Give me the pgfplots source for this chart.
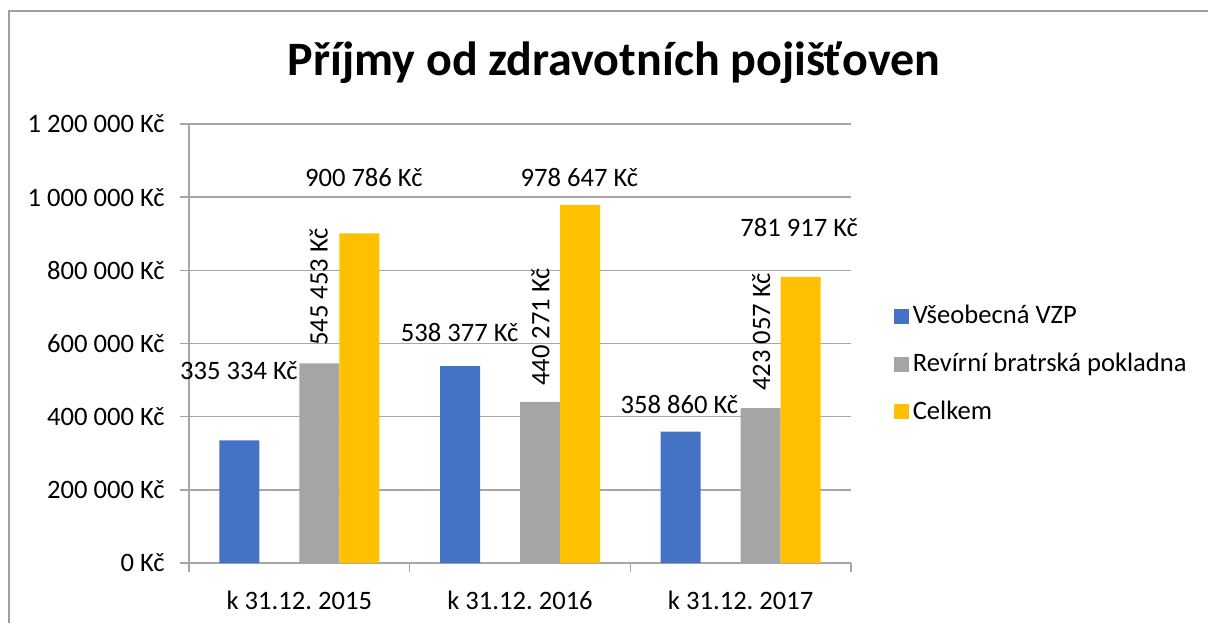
\documentclass[border=0pt]{standalone}
\usepackage{pgfplots}
\pgfplotsset{compat=1.18}
\usepackage{fontspec}
\setmainfont{Carlito}
\frenchspacing

\definecolor{vzp}{HTML}{4472C4}
\definecolor{rbp}{HTML}{A5A5A5}
\definecolor{celk}{HTML}{FFC000}
\definecolor{gridc}{HTML}{A6A6A6}
\definecolor{framec}{HTML}{A0A0A0}

\begin{document}
\begin{tikzpicture}[font=\fontsize{13.3}{16}\selectfont]
\useasboundingbox (0pt,0pt) rectangle (604pt,311.5pt);
\draw[framec, line width=1pt] (4.5pt,0pt) -- (4.5pt,306pt) -- (604pt,306pt);
\node[font=\fontsize{24}{28}\selectfont\bfseries] at (307pt,280pt) {Příjmy od zdravotních pojišťoven};

\begin{axis}[
    at={(94.5pt,30pt)}, anchor=south west,
    scale only axis,
    width=331pt, height=219.5pt,
    xmin=-0.5, xmax=2.5,
    ymin=0, ymax=1200000,
    ybar, bar width=20pt,
    axis x line*=bottom, axis y line*=left,
    axis line style={gridc, line width=0.8pt},
    ymajorgrids, grid style={gridc, line width=0.8pt},
    tick align=outside, major tick length=4.5pt,
    tick style={gridc, line width=0.8pt},
    ytick={0,200000,400000,600000,800000,1000000,1200000},
    yticklabels={0 Kč, 200 000 Kč, 400 000 Kč, 600 000 Kč, 800 000 Kč, 1 000 000 Kč, 1 200 000 Kč},
    scaled y ticks=false,
    yticklabel style={anchor=east, inner sep=0pt, xshift=-7.5pt},
    xtick={-0.5,0.5,1.5,2.5},
    xticklabels={},
    extra x ticks={0,1,2},
    extra x tick labels={k 31.12. 2015, k 31.12. 2016, k 31.12. 2017},
    extra x tick style={major tick length=0pt, tick label style={anchor=center, yshift=-18.5pt}},
    /pgf/number format/assume math mode=true,
    legend style={at={(1.064,0.597)}, anchor=north west, draw=none, fill=none,
        row sep=9.25pt, inner sep=0pt,
        /tikz/every even column/.append style={column sep=5.5pt}},
    legend cell align=left,
    legend image code/.code={\fill[#1] (0pt,-3.75pt) rectangle (7.5pt,3.75pt);},
    clip=false,
]
\addplot[fill=vzp, draw=none, bar shift=-30pt] coordinates {(0,335334) (1,538377) (2,358860)};
\addplot[fill=rbp, draw=none, bar shift=10pt] coordinates {(0,545453) (1,440271) (2,423057)};
\addplot[fill=celk, draw=none, bar shift=30pt] coordinates {(0,900786) (1,978647) (2,781917)};
\legend{Všeobecná VZP, Revírní bratrská pokladna, Celkem}

\node at (axis cs:-0.274,524800) {335 334 Kč};
\node[rotate=90] at (axis cs:0.088,754400) {545 453 Kč};
\node at (axis cs:0.292,1052400) {900 786 Kč};
\node at (axis cs:0.726,631400) {538 377 Kč};
\node[rotate=90] at (axis cs:1.093,645100) {440 271 Kč};
\node at (axis cs:1.269,1052400) {978 647 Kč};
\node at (axis cs:1.722,431900) {358 860 Kč};
\node[rotate=90] at (axis cs:2.093,631400) {423 057 Kč};
\node at (axis cs:2.265,915700) {781 917 Kč};
\end{axis}
\end{tikzpicture}
\end{document}
